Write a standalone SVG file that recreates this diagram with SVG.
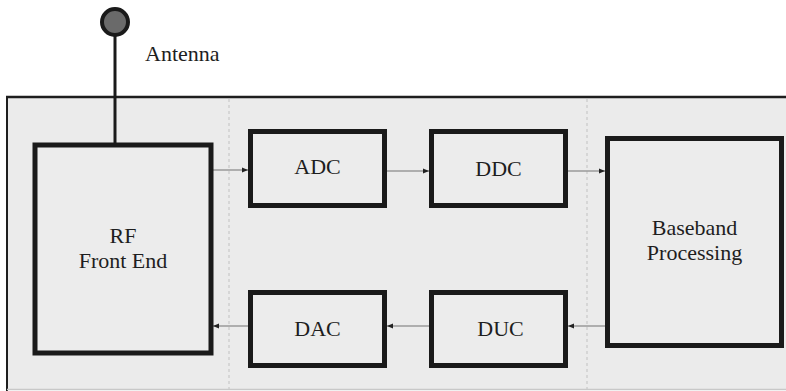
<svg xmlns="http://www.w3.org/2000/svg" width="786" height="391" viewBox="0 0 786 391">
<defs>
<style>
.box{fill:#ececec;stroke:#1a1a1a;stroke-width:5}
.lbl{font-size:22px;fill:#1e1e1e;text-anchor:middle}
.conn{stroke:#9a9a9a;stroke-width:1.5;fill:none;marker-end:url(#ah)}
.sep{stroke:#c8c8c8;stroke-width:1.2;stroke-dasharray:3 3}
</style>
<marker id="ah" viewBox="0 0 6 6" refX="6" refY="3" markerWidth="6" markerHeight="6" markerUnits="userSpaceOnUse" orient="auto">
<path d="M0,0.5 L6,3 L0,5.5 Z" fill="#222"/>
</marker>
</defs>
<rect width="786" height="391" fill="#ffffff"/>
<g id="panel">
<rect x="7" y="97" width="790" height="293" fill="#ebebeb"/>
<line x1="6" y1="97" x2="786" y2="97" stroke="#1e1e1e" stroke-width="2.5"/>
<line x1="7" y1="96" x2="7" y2="391" stroke="#1e1e1e" stroke-width="2"/>
<line x1="7" y1="389.5" x2="786" y2="389.5" stroke="#c8c8c8" stroke-width="1.5"/>
<line class="sep" x1="229" y1="99" x2="229" y2="389"/>
<line class="sep" x1="587" y1="99" x2="587" y2="389"/>
</g>
<g font-family="'Liberation Serif', 'DejaVu Serif', serif">
<g id="antenna">
<line x1="115" y1="30" x2="115" y2="145" stroke="#1a1a1a" stroke-width="3"/>
<circle cx="115" cy="22" r="13" fill="#6a6a6a" stroke="#1a1a1a" stroke-width="4"/>
<text class="lbl" x="145" y="61" text-anchor="start" style="text-anchor:start">Antenna</text>
</g>
<g id="connectors">
<line class="conn" x1="213" y1="170" x2="248" y2="170"/>
<line class="conn" x1="387" y1="171" x2="429" y2="171"/>
<line class="conn" x1="568" y1="171" x2="605" y2="171"/>
<line class="conn" x1="605" y1="326" x2="568" y2="326"/>
<line class="conn" x1="429" y1="326" x2="387" y2="326"/>
<line class="conn" x1="248" y1="326" x2="213" y2="326"/>
</g>
<g id="rf">
<rect class="box" x="35" y="145" width="176" height="208"/>
<text class="lbl" x="123" y="243">RF</text>
<text class="lbl" x="123" y="268">Front End</text>
</g>
<g id="adc">
<rect class="box" x="250.5" y="131.5" width="134" height="74"/>
<text class="lbl" x="317.5" y="174">ADC</text>
</g>
<g id="ddc">
<rect class="box" x="431.5" y="131.5" width="134" height="74"/>
<text class="lbl" x="498.5" y="176">DDC</text>
</g>
<g id="baseband">
<rect class="box" x="607.5" y="138.5" width="174" height="207"/>
<text class="lbl" x="694.5" y="235">Baseband</text>
<text class="lbl" x="694.5" y="260">Processing</text>
</g>
<g id="dac">
<rect class="box" x="250.5" y="292.5" width="134" height="73"/>
<text class="lbl" x="317.5" y="336">DAC</text>
</g>
<g id="duc">
<rect class="box" x="431.5" y="292.5" width="134" height="73"/>
<text class="lbl" x="500.5" y="336">DUC</text>
</g>
</g>
</svg>
